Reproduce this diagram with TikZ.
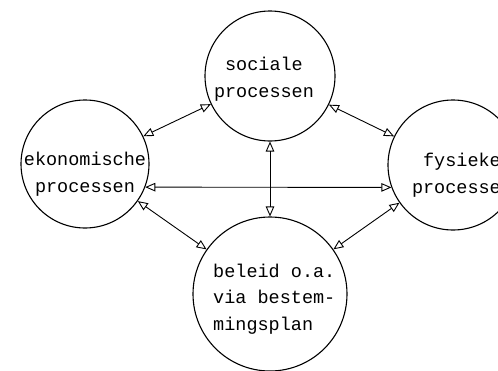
\documentclass[tikz,border=0pt]{standalone}
\usepackage{fontspec}
\setmonofont{Liberation Mono}
\usetikzlibrary{arrows.meta}
\begin{document}
\begin{tikzpicture}[x=1pt,y=-1pt,
  proc/.style={circle,draw,line width=1.1pt,inner sep=0pt},
  lbl/.style={font=\ttfamily\fontsize{18.5}{26.5}\selectfont,inner sep=0pt},
  tip/.tip={Triangle[open,length=10pt,width=8.5pt]},
  link/.style={line width=0.9pt,tip-tip}]
\useasboundingbox (0,0) rectangle (498,370);
\clip (0,0) rectangle (498,370);
\node[proc,minimum size=130pt] (s) at (270,76) {};
\node[proc,minimum size=128pt] (e) at (85,164) {};
\node[proc,minimum size=130pt] (f) at (453,165) {};
\node[proc,minimum size=154pt] (b) at (270,294) {};
\node[lbl,align=center,anchor=base] (ts) at (264,97) {sociale\\processen};
\node[lbl,align=center,anchor=base] (te) at (85,192) {ekonomische\\processen};
\node[lbl,align=center,anchor=base] (tf) at (462,193) {fysieke\\processen};
\node[lbl,align=left,anchor=base west] (tb) at (213,330) {beleid o.a.\\via bestem-\\mingsplan};
\draw[link] (s) -- (e);
\draw[link] (s) -- (f);
\draw[link] (s) -- (b);
\draw[link] (e) -- (b);
\draw[link] (f) -- (b);
\draw[link] (e.-21) -- (f.200);
\end{tikzpicture}
\end{document}
